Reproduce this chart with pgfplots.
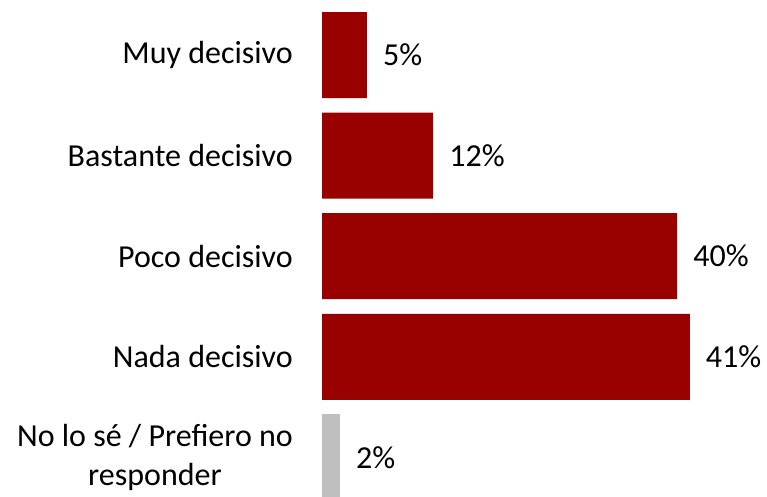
\documentclass[border=0pt]{standalone}
\usepackage{pgfplots}
\pgfplotsset{compat=1.18}
\usepackage{fontspec}
\setmainfont{Carlito}
\definecolor{barred}{HTML}{990000}
\definecolor{bargrey}{HTML}{BFBFBF}
\begin{document}
\begin{tikzpicture}[font=\fontsize{32}{39}\selectfont]
\useasboundingbox (0,0) rectangle (767pt,497pt);
\begin{axis}[
  at={(322pt,0pt)}, anchor=south west,
  scale only axis, width=448.5pt, height=497pt,
  xmin=0, xmax=50, ymin=-0.547, ymax=4.394,
  y dir=reverse,
  xbar, bar width=0.855, bar shift=0,
  axis line style={draw=none},
  hide x axis,
  major tick length=0pt,
  ytick={0,1,2,3,4},
  yticklabels={Muy decisivo, Bastante decisivo, Poco decisivo, Nada decisivo, {No lo sé / Prefiero no\\responder}},
  yticklabel style={align=center, inner sep=0pt, xshift=-29pt, font=\fontsize{32}{39}\selectfont},
  nodes near coords={\pgfmathprintnumber[fixed,precision=0]{\pgfplotspointmeta}\%},
  nodes near coords style={anchor=west, inner sep=0pt, xshift=16pt, font=\fontsize{32}{39}\selectfont},
  /pgf/number format/assume math mode=true,
  point meta=x,
  clip=false,
]
\addplot[fill=barred, draw=none] coordinates {(5,0) (12.4,1) (39.6,2) (41,3)};
\addplot[fill=bargrey, draw=none] coordinates {(2,4)};
\end{axis}
\end{tikzpicture}
\end{document}
